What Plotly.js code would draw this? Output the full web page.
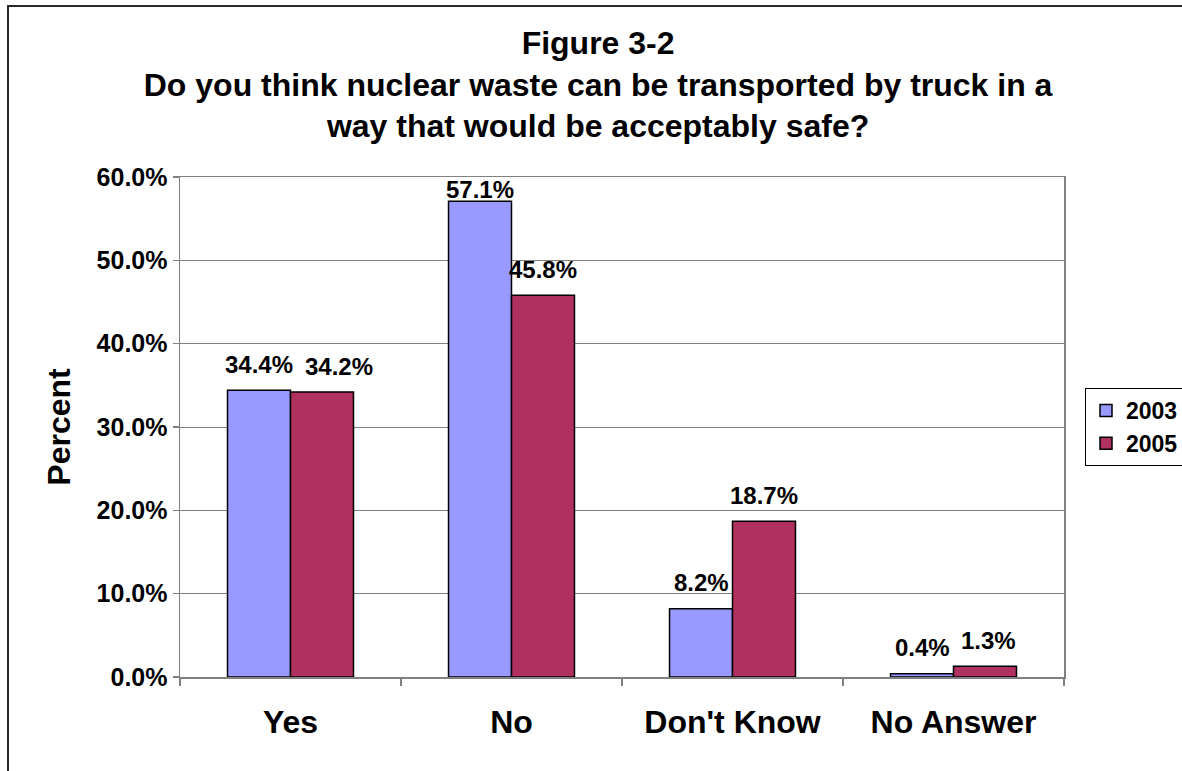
<!DOCTYPE html>
<html>
<head>
<meta charset="utf-8">
<script src="https://cdn.plot.ly/plotly-3.0.1.min.js"></script>
<style>
  html, body { margin: 0; padding: 0; background: #fff; overflow: hidden; }
  #wrap { position: relative; width: 1182px; height: 771px; }
  #chart { width: 1182px; height: 771px; }
  #frame { position: absolute; left: 7px; top: 5px; width: 1300px; height: 900px;
           border-left: 2px solid #2a2a2a; border-top: 2px solid #2a2a2a; pointer-events: none; }
</style>
</head>
<body>
<div id="wrap">
  <div id="chart"></div>
  <div id="frame"></div>
</div>
<script>
const categories = ["Yes", "No", "Don't Know", "No Answer"];
const seriesNames = ["2003", "2005"];
const values2003 = [34.4, 57.1, 8.2, 0.4];
const values2005 = [34.2, 45.8, 18.7, 1.3];
const yTickValues = [0, 10, 20, 30, 40, 50, 60];
const yTickLabels = ["0.0%", "10.0%", "20.0%", "30.0%", "40.0%", "50.0%", "60.0%"];

const FONT = "Liberation Sans, Arial, sans-serif";
const LABEL_SIZE = 24;
const colors = ["#9999FF", "#B03060"];
const plotTop = 177, plotBottom = 677, plotLeft = 180, plotRight = 1064;
const plotH = plotBottom - plotTop;
const yMax = 60;
const bargap = 0.43;
const catW = (plotRight - plotLeft) / categories.length;
const barW = catW * (1 - bargap) / 2;

// text width measurement for label collision avoidance
const cv = document.createElement("canvas").getContext("2d");
cv.font = "bold " + LABEL_SIZE + "px 'Liberation Sans', Arial, sans-serif";
const measure = t => cv.measureText(t).width;

const traces = [values2003, values2005].map((vals, i) => ({
  type: "bar",
  name: seriesNames[i],
  x: categories,
  y: vals,
  marker: { color: colors[i], line: { color: "#000", width: 1.5 } },
  hoverinfo: "none"
}));

const annotations = [];
const labelFor = v => v.toFixed(1) + "%";
const yshiftFor = v => Math.min(26, (yMax - v) / yMax * plotH - 12);
categories.forEach((cat, j) => {
  const vals = [values2003[j], values2005[j]];
  const texts = vals.map(labelFor);
  const ys = vals.map(v => -(v / yMax) * plotH - yshiftFor(v));
  let extra = 0;
  if (Math.abs(ys[0] - ys[1]) < LABEL_SIZE) {
    const need = measure(texts[0]) / 2 + measure(texts[1]) / 2 + 12;
    if (need > barW) extra = need - barW;
  }
  vals.forEach((v, i) => {
    annotations.push({
      x: cat, y: v, xref: "x", yref: "y",
      text: texts[i],
      showarrow: false,
      xshift: (i === 0 ? -1 : 1) * barW / 2 + (i === 1 ? extra : 0),
      yshift: yshiftFor(v),
      yanchor: "middle",
      font: { family: FONT, size: LABEL_SIZE, color: "#000", weight: "bold" }
    });
  });
});

const layout = {
  width: 1182, height: 771,
  margin: { l: plotLeft, r: 1182 - plotRight, t: plotTop, b: 771 - plotBottom, autoexpand: false },
  paper_bgcolor: "#fff", plot_bgcolor: "#fff",
  font: { family: FONT, color: "#000", weight: "bold" },
  title: {
    text: "Figure 3-2<br>Do you think nuclear waste can be transported by truck in a<br>way that would be acceptably safe?",
    font: { family: FONT, size: 32, color: "#000", weight: "bold" },
    x: 0.506, xanchor: "center", yref: "container", y: 1 - 54 / 771, yanchor: "middle"
  },
  barmode: "group",
  bargap: bargap,
  bargroupgap: 0,
  showlegend: true,
  legend: {
    x: (1085 - plotLeft) / (plotRight - plotLeft), xanchor: "left",
    y: 0.5, yanchor: "middle",
    bordercolor: "#000", borderwidth: 1, bgcolor: "#fff",
    font: { family: FONT, size: 23, color: "#000", weight: "bold" },
    tracegroupgap: 0
  },
  xaxis: {
    type: "category",
    showline: true, linecolor: "#808080", linewidth: 1.5, mirror: true,
    ticks: "outside", tickson: "boundaries", ticklen: 7, tickcolor: "#808080", tickwidth: 1.5,
    tickfont: { family: FONT, size: 32, color: "#000", weight: "bold" },
    ticklabelstandoff: 16,
    showgrid: false, zeroline: false
  },
  yaxis: {
    range: [0, yMax],
    tickmode: "array",
    tickvals: yTickValues,
    ticktext: yTickLabels,
    showline: true, linecolor: "#808080", linewidth: 1.5, mirror: true,
    ticks: "outside", ticklen: 6, tickcolor: "#808080", tickwidth: 1.5,
    showgrid: true, gridcolor: "#808080", gridwidth: 1,
    zeroline: false,
    tickfont: { family: FONT, size: 25, color: "#000", weight: "bold" },
    title: { text: "Percent", font: { family: FONT, size: 32, color: "#000", weight: "bold" }, standoff: 16 }
  },
  annotations: annotations
};

Plotly.newPlot("chart", traces, layout, { displayModeBar: false, staticPlot: true });
</script>
</body>
</html>
